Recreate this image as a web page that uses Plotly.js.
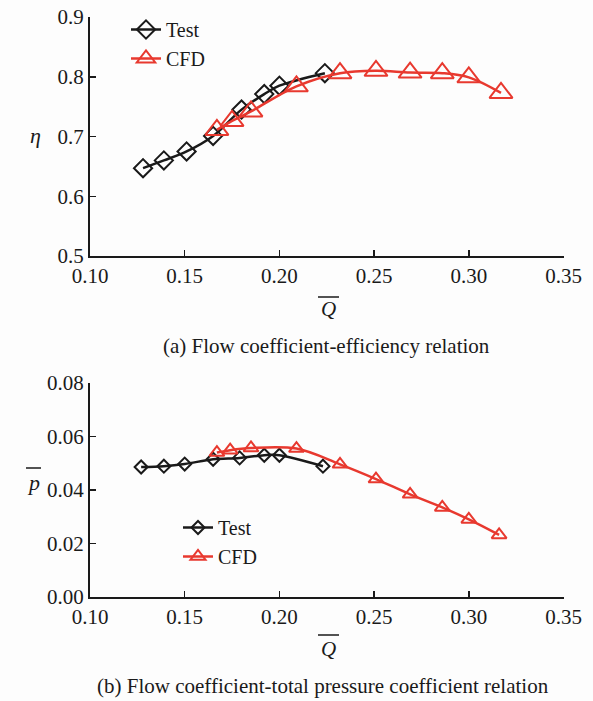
<!DOCTYPE html>
<html>
<head>
<meta charset="utf-8">
<script src="https://cdn.plot.ly/plotly-3.0.1.min.js"></script>
<style>html,body{margin:0;padding:0;background:#fdfdfd;}</style>
</head>
<body>
<div id="chart" style="width:593px;height:701px;"></div>
<script>
// ---- Data ----
var testQ   = [0.128, 0.139, 0.151, 0.165, 0.180, 0.192, 0.200, 0.224];
var testEta = [0.647, 0.660, 0.675, 0.701, 0.745, 0.771, 0.785, 0.806];
var cfdQ    = [0.167, 0.175, 0.185, 0.209, 0.232, 0.251, 0.269, 0.286, 0.300, 0.317];
var cfdEta  = [0.711, 0.726, 0.742, 0.784, 0.806, 0.810, 0.807, 0.806, 0.799, 0.773];

var testQ2  = [0.127, 0.139, 0.150, 0.165, 0.179, 0.192, 0.200, 0.223];
var testP   = [0.0486, 0.0489, 0.0497, 0.0515, 0.0520, 0.0530, 0.0530, 0.0489];
var cfdQ2   = [0.167, 0.174, 0.185, 0.209, 0.232, 0.251, 0.269, 0.286, 0.300, 0.316];
var cfdP    = [0.0540, 0.0549, 0.0557, 0.0555, 0.0496, 0.0441, 0.0384, 0.0335, 0.0290, 0.0232];

var xTicks = [0.10, 0.15, 0.20, 0.25, 0.30, 0.35];
var xTickText = ['0.10', '0.15', '0.20', '0.25', '0.30', '0.35'];
var y1Ticks = [0.5, 0.6, 0.7, 0.8, 0.9];
var y1TickText = ['0.5', '0.6', '0.7', '0.8', '0.9'];
var y2Ticks = [0, 0.02, 0.04, 0.06, 0.08];
var y2TickText = ['0.00', '0.02', '0.04', '0.06', '0.08'];

var seriesNames = ['Test', 'CFD'];
var captions = ['(a) Flow coefficient-efficiency relation',
                '(b) Flow coefficient-total pressure coefficient relation'];

// ---- Styles ----
var FONT = 'Liberation Serif, Times New Roman, serif';
var BLACK = '#1a1a1a', RED = '#e8392f';
var W = 593, H = 701;
function px(x) { return x / W; }
function py(y) { return 1 - y / H; }

var traces = [
  {x: testQ, y: testEta, name: seriesNames[0], xaxis: 'x', yaxis: 'y', legend: 'legend',
   mode: 'lines+markers', line: {color: BLACK, width: 2.5, shape: 'spline', smoothing: 1},
   marker: {symbol: 'diamond-open', size: 14, color: BLACK, line: {width: 2, color: BLACK}}},
  {x: cfdQ, y: cfdEta, name: seriesNames[1], xaxis: 'x', yaxis: 'y', legend: 'legend',
   mode: 'lines+markers', line: {color: RED, width: 2.5, shape: 'spline', smoothing: 1},
   marker: {symbol: 'triangle-up-open', size: 20, color: RED, line: {width: 2, color: RED}}},
  {x: testQ2, y: testP, name: seriesNames[0], xaxis: 'x2', yaxis: 'y2', legend: 'legend2',
   mode: 'lines+markers', line: {color: BLACK, width: 2.5, shape: 'spline', smoothing: 1},
   marker: {symbol: 'diamond-open', size: 10, color: BLACK, line: {width: 2, color: BLACK}}},
  {x: cfdQ2, y: cfdP, name: seriesNames[1], xaxis: 'x2', yaxis: 'y2', legend: 'legend2',
   mode: 'lines+markers', line: {color: RED, width: 2.5, shape: 'spline', smoothing: 1},
   marker: {symbol: 'triangle-up-open', size: 13, color: RED, line: {width: 2, color: RED}}}
];

function xAxis(anchor) {
  return {domain: [px(90), px(563.5)], anchor: anchor, range: [0.10, 0.35],
    tickvals: xTicks, ticktext: xTickText, ticks: 'inside', ticklen: 6, tickwidth: 1.5,
    tickcolor: BLACK, showline: true, linecolor: BLACK, linewidth: 2, showgrid: false,
    zeroline: false, tickfont: {family: FONT, size: 21, color: BLACK}};
}
function yAxis(anchor, dom, rng, tv, tt) {
  return {domain: dom, anchor: anchor, range: rng, tickvals: tv, ticktext: tt,
    ticks: 'inside', ticklen: 6, tickwidth: 1.5, tickcolor: BLACK, showline: true,
    linecolor: BLACK, linewidth: 2, showgrid: false, zeroline: false,
    tickfont: {family: FONT, size: 21, color: BLACK}};
}

function ann(text, x, y, size) {
  return {text: text, xref: 'paper', yref: 'paper', x: px(x), y: py(y), xanchor: 'center',
    yanchor: 'middle', showarrow: false, font: {family: FONT, size: size, color: BLACK}};
}

var layout = {
  width: W, height: H, margin: {l: 0, r: 0, t: 0, b: 0},
  paper_bgcolor: '#fdfdfd', plot_bgcolor: '#fdfdfd',
  font: {family: FONT, color: BLACK},
  xaxis: xAxis('y'),
  yaxis: yAxis('x', [py(256), py(17)], [0.5, 0.9], y1Ticks, y1TickText),
  xaxis2: xAxis('y2'),
  yaxis2: yAxis('x2', [py(597), py(383)], [0, 0.08], y2Ticks, y2TickText),
  legend: {x: px(126), y: py(10), xanchor: 'left', yanchor: 'top', bgcolor: 'rgba(0,0,0,0)',
    font: {family: FONT, size: 20, color: BLACK}, tracegroupgap: 0},
  legend2: {x: px(178), y: py(508), xanchor: 'left', yanchor: 'top', bgcolor: 'rgba(0,0,0,0)',
    font: {family: FONT, size: 20, color: BLACK}, tracegroupgap: 0},
  showlegend: true,
  annotations: [
    ann('<i>Q</i>', 328, 309, 21),
    ann('<i>Q</i>', 328, 649, 21),
    ann('<i>η</i>', 35, 135, 22),
    ann('<i>p</i>', 33, 482, 22),
    ann(captions[0], 326, 346, 21),
    ann(captions[1], 323, 686, 21)
  ],
  shapes: [
    {type: 'line', xref: 'paper', yref: 'paper', x0: px(318), x1: px(339), y0: py(297), y1: py(297),
     line: {color: BLACK, width: 1.5}},
    {type: 'line', xref: 'paper', yref: 'paper', x0: px(318), x1: px(339), y0: py(635), y1: py(635),
     line: {color: BLACK, width: 1.5}},
    {type: 'line', xref: 'paper', yref: 'paper', x0: px(26), x1: px(41), y0: py(468), y1: py(468),
     line: {color: BLACK, width: 1.5}}
  ]
};

Plotly.newPlot('chart', traces, layout, {displayModeBar: false, staticPlot: true});
</script>
</body>
</html>
